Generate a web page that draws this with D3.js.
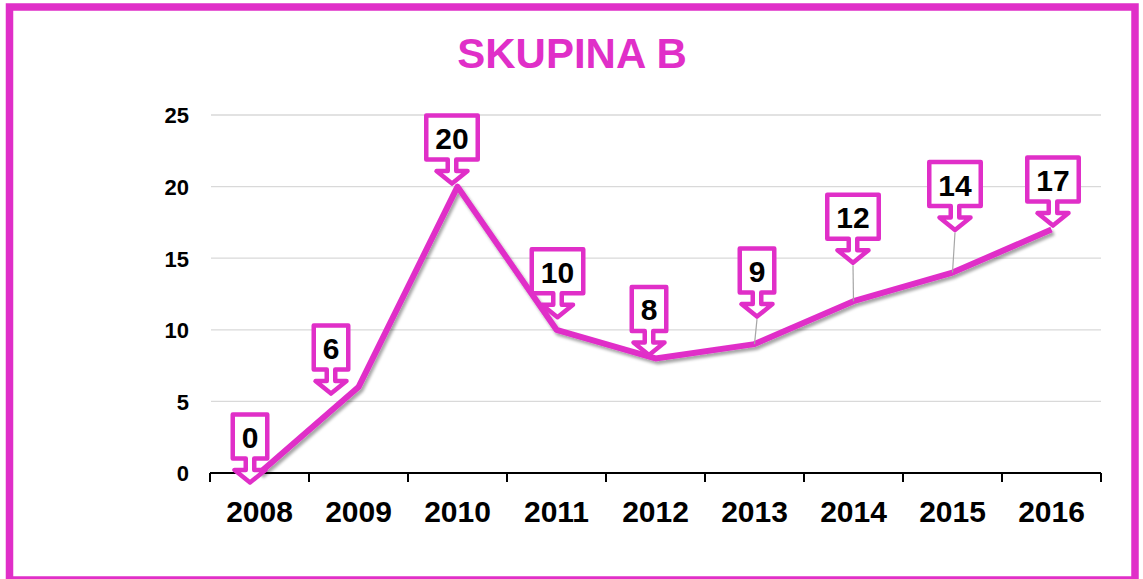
<!DOCTYPE html>
<html>
<head>
<meta charset="utf-8">
<script src="https://cdn.jsdelivr.net/npm/d3@7"></script>
<style>
  html, body { margin: 0; padding: 0; background: #fff; }
  svg { display: block; font-family: "Liberation Sans", Arial, sans-serif; }
</style>
</head>
<body>
<svg id="chart" width="1143" height="579"></svg>
<script>
// ---- data ----
const chartTitle = "SKUPINA B";
const categories = ["2008", "2009", "2010", "2011", "2012", "2013", "2014", "2015", "2016"];
const values = [0, 6, 20, 10, 8, 9, 12, 14, 17];
const yTicks = [0, 5, 10, 15, 20, 25];

// ---- layout of callouts (pixel nudge of arrow tip relative to its point) ----
const calloutDx = [-9.5, -27.5, -5.5, 1, -6.5, 2.5, -0.5, 2.5, 1.5];
const calloutDy = [12, 9, -0.5, -10, -1, -25, -36, -40, -1.5];

const PINK = "#E02FC8";
const svg = d3.select("#chart");

const x = d3.scaleBand().domain(categories).range([210, 1101]).padding(0);
const y = d3.scaleLinear().domain([0, 25]).range([473, 115]);

// defs: drop shadow for the line
const defs = svg.append("defs");
const f = defs.append("filter").attr("id", "shadow")
  .attr("x", "-10%").attr("y", "-10%").attr("width", "120%").attr("height", "130%");
f.append("feDropShadow").attr("dx", 2).attr("dy", 3).attr("stdDeviation", 1.6)
  .attr("flood-color", "#000").attr("flood-opacity", 0.35);

// outer frame
svg.append("rect").attr("x", 9.5).attr("y", 7).attr("width", 1125.5).attr("height", 573)
  .attr("fill", "#fff").attr("stroke", PINK).attr("stroke-width", 7.5);

// title
svg.append("text").attr("x", 572).attr("y", 68).attr("text-anchor", "middle")
  .attr("font-size", 42).attr("font-weight", "bold").attr("fill", PINK).text(chartTitle);

// gridlines
svg.append("g").selectAll("line").data(yTicks.filter(d => d > 0)).join("line")
  .attr("x1", 211).attr("x2", 1101)
  .attr("y1", d => y(d)).attr("y2", d => y(d))
  .attr("stroke", "#d9d9d9").attr("stroke-width", 1.3);

// y axis labels
const yAxis = d3.axisLeft(y).tickValues(yTicks).tickSize(0).tickPadding(0);
const gy = svg.append("g").attr("transform", "translate(189,0)").call(yAxis);
gy.select(".domain").remove();
gy.selectAll("text").attr("font-size", 22).attr("font-weight", "bold")
  .attr("fill", "#000").attr("font-family", "'Liberation Sans', Arial, sans-serif")
  .attr("dy", "0.36em");

// x axis labels
const xAxis = d3.axisBottom(x).tickSize(0).tickPadding(0);
const gx = svg.append("g").attr("transform", "translate(0,473)").call(xAxis);
gx.select(".domain").remove();
gx.selectAll("text").attr("font-size", 30).attr("font-weight", "bold")
  .attr("fill", "#000").attr("font-family", "'Liberation Sans', Arial, sans-serif")
  .attr("dy", 0).attr("y", 49);

// x axis line & boundary ticks
const boundaries = categories.map(c => x(c)).concat([x.range()[1]]);
svg.append("line").attr("x1", x.range()[0]).attr("x2", x.range()[1])
  .attr("y1", y(0)).attr("y2", y(0)).attr("stroke", "#000").attr("stroke-width", 2);
svg.append("g").selectAll("line").data(boundaries).join("line")
  .attr("x1", d => d).attr("x2", d => d).attr("y1", y(0)).attr("y2", y(0) + 9)
  .attr("stroke", "#000").attr("stroke-width", 2);

// line series
const px = (d, i) => x(categories[i]) + x.bandwidth() / 2;
const line = d3.line().x((d, i) => px(d, i)).y(d => y(d));
svg.append("path").datum(values).attr("d", line)
  .attr("fill", "none").attr("stroke", PINK).attr("stroke-width", 6)
  .attr("stroke-linejoin", "round").attr("filter", "url(#shadow)");

// leader lines
const pts = values.map((v, i) => ({
  v, i, x: px(v, i), y: y(v),
  tx: px(v, i) + calloutDx[i], ty: y(v) + calloutDy[i]
}));
svg.append("g").selectAll("line").data(pts.filter(p => p.ty < p.y - 15)).join("line")
  .attr("x1", p => p.tx).attr("y1", p => p.ty).attr("x2", p => p.x).attr("y2", p => p.y)
  .attr("stroke", "#a6a6a6").attr("stroke-width", 1.2);

// callouts
function calloutPath(W) {
  const hw = (W - 4.5) / 2, top = -70.5, boxB = -26.5, sh = -15, tip = -2.5;
  const sw = 4.25, aw = 15.5;
  return `M${-hw},${top} H${hw} V${boxB} H${sw} V${sh} H${aw} L0,${tip} L${-aw},${sh} H${-sw} V${boxB} H${-hw} Z`;
}
const cg = svg.append("g").selectAll("g").data(pts).join("g")
  .attr("transform", p => `translate(${p.tx},${p.ty})`);
cg.append("path")
  .attr("d", p => calloutPath(22 + 17 * String(p.v).length))
  .attr("fill", "#fff").attr("stroke", PINK).attr("stroke-width", 4.5)
  .attr("stroke-linejoin", "round");
cg.append("text").attr("x", 0).attr("y", -37).attr("text-anchor", "middle")
  .attr("font-size", 30).attr("font-weight", "bold").attr("fill", "#000")
  .text(p => p.v);
</script>
</body>
</html>
